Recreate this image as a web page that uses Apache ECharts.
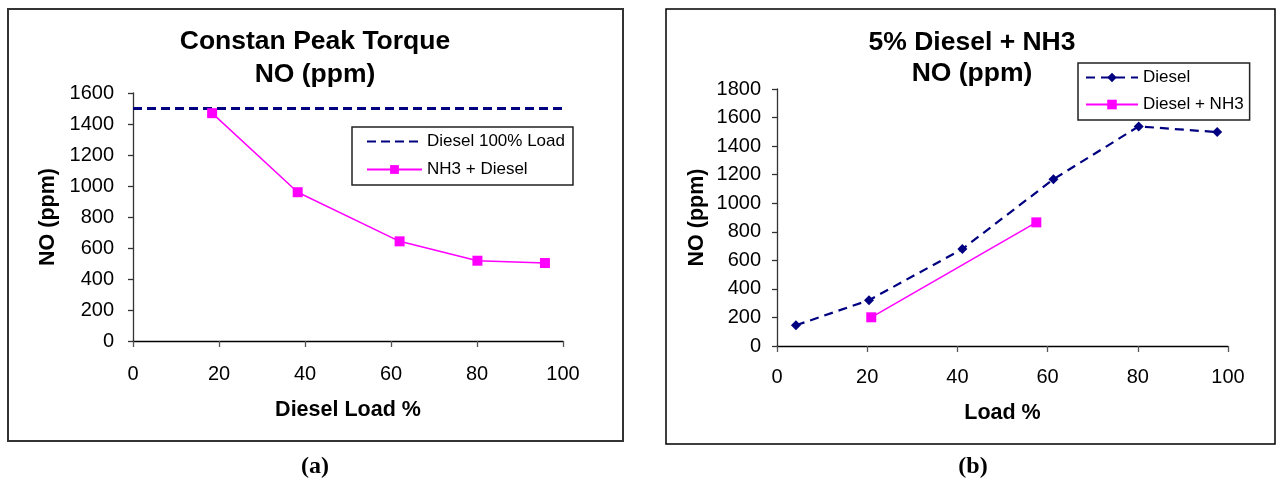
<!DOCTYPE html>
<html>
<head>
<meta charset="utf-8">
<script src="https://cdn.jsdelivr.net/npm/echarts@6/dist/echarts.min.js"></script>
<style>
html,body{margin:0;padding:0;background:#fff;}
#c{width:1279px;height:482px;}
</style>
</head>
<body>
<div id="c"></div>
<script>
// ---- Data (a): Constan Peak Torque ----
const aRefName = 'Diesel 100% Load';
const aRefX = [0, 100];
const aRefY = [1500, 1500];
const aNH3Name = 'NH3 + Diesel';
const aNH3X = [18.4, 38.3, 62.0, 80.1, 95.8];
const aNH3Y = [1470, 960, 643, 518, 503];

// ---- Data (b): 5% Diesel + NH3 ----
const bDieselName = 'Diesel';
const bDieselX = [4.2, 20.4, 41.1, 61.3, 80.2, 97.6];
const bDieselY = [145, 321, 679, 1168, 1538, 1498];
const bNH3Name = 'Diesel + NH3';
const bNH3X = [20.9, 57.5];
const bNH3Y = [201, 866];

const xTicks = [0, 20, 40, 60, 80, 100];
const aYMax = 1600, bYMax = 1800, yStep = 200;

const pairs = (xs, ys) => xs.map((x, i) => [x, ys[i]]);

const FONT = 'Liberation Sans, Arial, sans-serif';
const NAVY = '#000080';
const MAGENTA = '#FF00FF';

const chart = echarts.init(document.getElementById('c'), null, {renderer: 'canvas'});

function xAxisCfg(gridIndex, name, gap, margin) {
  return {
    type: 'value', gridIndex, min: xTicks[0], max: xTicks[xTicks.length - 1], interval: 20,
    name, nameLocation: 'middle', nameGap: gap,
    nameTextStyle: {fontFamily: FONT, fontSize: 21.5, fontWeight: 'bold', color: '#000'},
    axisLine: {show: true, onZero: false, lineStyle: {color: '#000', width: 1.3}},
    axisTick: {show: true, inside: false, length: 6, lineStyle: {color: '#555', width: 1.3}},
    axisLabel: {fontFamily: FONT, fontSize: 20, color: '#000', margin, formatter: v => String(v)},
    splitLine: {show: false}
  };
}
function yAxisCfg(gridIndex, max, gap, margin) {
  return {
    type: 'value', gridIndex, min: 0, max, interval: yStep,
    name: 'NO (ppm)', nameLocation: 'middle', nameGap: gap, nameRotate: 90,
    nameTextStyle: {fontFamily: FONT, fontSize: 21.5, fontWeight: 'bold', color: '#000'},
    axisLine: {show: true, onZero: false, lineStyle: {color: '#333', width: 1.3}},
    axisTick: {show: true, inside: false, length: 5, lineStyle: {color: '#333', width: 1.3}},
    axisLabel: {fontFamily: FONT, fontSize: 20, color: '#000', margin, formatter: v => String(v)},
    splitLine: {show: false}
  };
}

const option = {
  animation: false,
  backgroundColor: '#fff',
  grid: [
    {left: 133, top: 93, width: 430, height: 248, containLabel: false},
    {left: 777, top: 89, width: 451, height: 257, containLabel: false}
  ],
  xAxis: [xAxisCfg(0, 'Diesel Load %', 58, 23), xAxisCfg(1, 'Load %', 56, 21)],
  yAxis: [yAxisCfg(0, aYMax, 74, 19), yAxisCfg(1, bYMax, 69, 16)],
  legend: [
    {
      data: [aRefName, aNH3Name],
      orient: 'vertical', left: 352, top: 127,
      padding: [6, 8, 7, 14], itemWidth: 55, itemHeight: 11, itemGap: 11,
      borderColor: '#222', borderWidth: 1.5, backgroundColor: '#fff',
      textStyle: {fontFamily: FONT, fontSize: 17, color: '#000', lineHeight: 17}
    },
    {
      data: [bDieselName, bNH3Name],
      orient: 'vertical', left: 1078, top: 63,
      padding: [6, 6, 7, 7], itemWidth: 52, itemHeight: 12, itemGap: 10,
      borderColor: '#222', borderWidth: 1.5, backgroundColor: '#fff',
      textStyle: {fontFamily: FONT, fontSize: 17, color: '#000', lineHeight: 17}
    }
  ],
  series: [
    {
      name: aRefName, type: 'line', xAxisIndex: 0, yAxisIndex: 0,
      data: pairs(aRefX, aRefY), symbol: 'none',
      itemStyle: {color: NAVY, opacity: 0},
      lineStyle: {color: NAVY, width: 2.8, type: [9, 5]}
    },
    {
      name: aNH3Name, type: 'line', xAxisIndex: 0, yAxisIndex: 0,
      data: pairs(aNH3X, aNH3Y), symbol: 'rect', symbolSize: 10,
      itemStyle: {color: MAGENTA},
      lineStyle: {color: MAGENTA, width: 1.5}
    },
    {
      name: bDieselName, type: 'line', xAxisIndex: 1, yAxisIndex: 1,
      data: pairs(bDieselX, bDieselY), symbol: 'diamond', symbolSize: 10,
      itemStyle: {color: NAVY},
      lineStyle: {color: NAVY, width: 2.2, type: [9, 6]}
    },
    {
      name: bNH3Name, type: 'line', xAxisIndex: 1, yAxisIndex: 1,
      data: pairs(bNH3X, bNH3Y), symbol: 'rect', symbolSize: 10,
      itemStyle: {color: MAGENTA},
      lineStyle: {color: MAGENTA, width: 1.5}
    }
  ],
  graphic: [
    {type: 'rect', z: -10, shape: {x: 8, y: 9, width: 615, height: 432},
     style: {fill: 'none', stroke: '#333', lineWidth: 2}},
    {type: 'rect', z: -10, shape: {x: 666, y: 9, width: 609, height: 435},
     style: {fill: 'none', stroke: '#000', lineWidth: 1.5}},
    {type: 'text', x: 315, y: 25,
     style: {text: 'Constan Peak Torque\nNO (ppm)', fill: '#000', fontFamily: FONT, fontSize: 26.5,
             fontWeight: 'bold', align: 'center', verticalAlign: 'top', lineHeight: 33}},
    {type: 'text', x: 972, y: 27,
     style: {text: '5% Diesel + NH3\nNO (ppm)', fill: '#000', fontFamily: FONT, fontSize: 26.5,
             fontWeight: 'bold', align: 'center', verticalAlign: 'top', lineHeight: 31}},
    {type: 'text', x: 315, y: 467,
     style: {text: '(a)', fill: '#000', fontFamily: 'Liberation Serif, Times New Roman, serif', fontSize: 24,
             fontWeight: 'bold', align: 'center', verticalAlign: 'middle'}},
    {type: 'text', x: 973, y: 467,
     style: {text: '(b)', fill: '#000', fontFamily: 'Liberation Serif, Times New Roman, serif', fontSize: 24,
             fontWeight: 'bold', align: 'center', verticalAlign: 'middle'}}
  ]
};
chart.setOption(option);
</script>
</body>
</html>
